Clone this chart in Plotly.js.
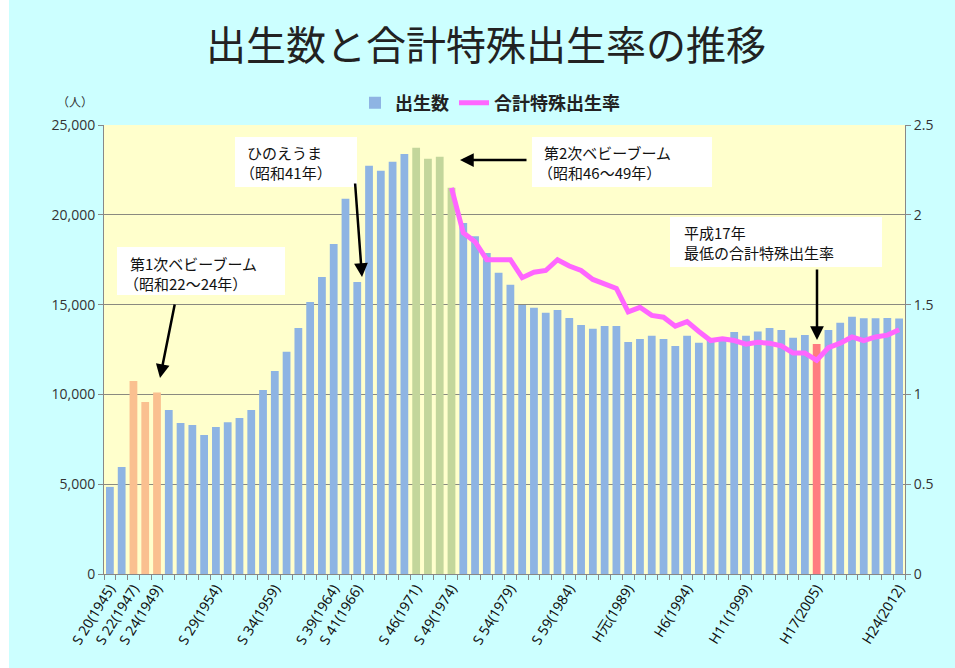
<!DOCTYPE html>
<html>
<head>
<meta charset="utf-8">
<script src="https://cdn.plot.ly/plotly-3.0.1.min.js"></script>
<style>
html,body{margin:0;padding:0;background:#ffffff;}
#chart{width:955px;height:668px;}
</style>
</head>
<body>
<div id="chart"></div>
<script>
// ---- data ----
const years = [
  '1945','1946','1947','1948','1949','1950','1951','1952','1953','1954',
  '1955','1956','1957','1958','1959','1960','1961','1962','1963','1964',
  '1965','1966','1967','1968','1969','1970','1971','1972','1973','1974',
  '1975','1976','1977','1978','1979','1980','1981','1982','1983','1984',
  '1985','1986','1987','1988','1989','1990','1991','1992','1993','1994',
  '1995','1996','1997','1998','1999','2000','2001','2002','2003','2004',
  '2005','2006','2007','2008','2009','2010','2011','2012'];

const births = [
  4850, 5960, 10750, 9580, 10100, 9130, 8410, 8300, 7740, 8190,
  8450, 8690, 9130, 10250, 11300, 12370, 13700, 15150, 16540, 18380,
  20890, 16260, 22730, 22450, 22950, 23390, 23730, 23120, 23230, 21500,
  19550, 18800, 17880, 16770, 16100, 14980, 14820, 14540, 14700, 14260,
  13870, 13650, 13810, 13810, 12920, 13090, 13260, 13090, 12700, 13260,
  12880, 13030, 13030, 13480, 13260, 13500, 13700, 13590, 13150, 13310,
  12810, 13590, 13990, 14330, 14240, 14240, 14260, 14220];

const tfrYears = [
  '1974','1975','1976','1977','1978','1979','1980','1981','1982','1983',
  '1984','1985','1986','1987','1988','1989','1990','1991','1992','1993',
  '1994','1995','1996','1997','1998','1999','2000','2001','2002','2003',
  '2004','2005','2006','2007','2008','2009','2010','2011','2012'];
const tfr = [
  2.15, 1.90, 1.85, 1.75, 1.75, 1.75, 1.65, 1.68, 1.69, 1.75,
  1.715, 1.69, 1.64, 1.615, 1.59, 1.46, 1.485, 1.44, 1.43, 1.38,
  1.405, 1.35, 1.30, 1.31, 1.30, 1.28, 1.29, 1.285, 1.27, 1.23,
  1.23, 1.19, 1.26, 1.285, 1.32, 1.30, 1.32, 1.33, 1.36];

const labelYears = ['1945','1947','1949','1954','1959','1964','1966','1971','1974',
                    '1979','1984','1989','1994','1999','2005','2012'];
const labelTexts = ['S 20(1945)','S 22(1947)','S 24(1949)','S 29(1954)','S 34(1959)',
                    'S 39(1964)','S 41(1966)','S 46(1971)','S 49(1974)','S 54(1979)',
                    'S 59(1984)','H元(1989)','H6(1994)','H11(1999)','H17(2005)','H24(2012)'];

const boom1Years = ['1947','1948','1949'];
const boom2Years = ['1971','1972','1973','1974'];
const lowestYears = ['2005'];

const seriesNames = ['出生数', '合計特殊出生率'];

// ---- styling ----
const C_BLUE = '#8EB4E3', C_ORANGE = '#FAC090', C_GREEN = '#C3D69B', C_RED = '#FF7C80';
const barColors = years.map(y =>
  boom1Years.includes(y) ? C_ORANGE :
  boom2Years.includes(y) ? C_GREEN :
  lowestYears.includes(y) ? C_RED : C_BLUE);

const tickText = years.map(y => {
  const i = labelYears.indexOf(y);
  return i >= 0 ? labelTexts[i] : '';
});

// plot area pixel geometry helpers
const L = 104, R = 905, T = 125, B = 574;
const PX = px => (px - L) / (R - L);
const PY = py => (B - py) / (B - T);

const JP = '"Noto Sans CJK JP", "Noto Sans", sans-serif';
const NUM = '"Open Sans", "Noto Sans", sans-serif';

const traces = [
  {
    type: 'bar', name: seriesNames[0], x: years, y: births,
    marker: {color: barColors}, yaxis: 'y', hoverinfo: 'x+y'
  },
  {
    type: 'scatter', mode: 'lines', name: seriesNames[1], x: tfrYears, y: tfr,
    yaxis: 'y2', line: {color: '#FF66FF', width: 5}
  }
];

function box(x0, y0, x1, y1) {
  return {type: 'rect', xref: 'paper', yref: 'paper',
    x0: PX(x0), x1: PX(x1), y0: PY(y1), y1: PY(y0),
    fillcolor: '#FFFFFF', line: {width: 0}, layer: 'above'};
}
function txt(x, y, text) {
  return {xref: 'paper', yref: 'paper', x: PX(x), y: PY(y), text: text,
    showarrow: false, xanchor: 'left', yanchor: 'middle', align: 'left',
    font: {family: JP, size: 15, color: '#111'}};
}
function arrow(tx, ty, hx, hy) {
  return {xref: 'paper', yref: 'paper', x: PX(hx), y: PY(hy), ax: tx - hx, ay: ty - hy,
    axref: 'pixel', ayref: 'pixel', text: '', showarrow: true,
    arrowhead: 2, arrowsize: 1.1, arrowwidth: 2.5, arrowcolor: '#000'};
}

const layout = {
  width: 955, height: 668,
  paper_bgcolor: '#CCFFFF', plot_bgcolor: '#FFFFCC',
  margin: {l: L, r: 955 - R, t: T, b: 668 - B, pad: 0},
  font: {family: NUM, color: '#333'},
  title: {
    text: '出生数と合計特殊出生率の推移',
    font: {family: JP, size: 40, color: '#222'},
    x: 486 / 955, xref: 'container', xanchor: 'center',
    y: 1 - 46 / 668, yref: 'container', yanchor: 'middle'
  },
  showlegend: true,
  legend: {
    orientation: 'h', x: PX(490), xanchor: 'center', y: PY(103), yanchor: 'middle',
    bgcolor: 'rgba(0,0,0,0)', font: {family: JP, size: 18, color: '#222', weight: 'bold'},
    traceorder: 'normal', itemwidth: 30
  },
  bargap: 0.34,
  xaxis: {
    type: 'category', tickmode: 'array', tickvals: years, ticktext: tickText,
    tickson: 'boundaries', ticks: 'outside', ticklen: 5, tickcolor: '#888',
    tickangle: -58, showline: true, linecolor: '#888', linewidth: 1,
    showgrid: false, tickfont: {family: '"Noto Sans", "Noto Sans CJK JP", sans-serif', size: 14, color: '#111'},
    range: [-0.5, years.length - 0.5], fixedrange: true
  },
  yaxis: {
    range: [0, 25000], dtick: 5000, tickformat: ',d',
    showgrid: true, gridcolor: '#8a8a80', gridwidth: 1,
    showline: true, linecolor: '#888', ticks: 'outside', ticklen: 5, tickcolor: '#888',
    zeroline: false, tickfont: {family: NUM, size: 14, color: '#333'}, fixedrange: true
  },
  yaxis2: {
    overlaying: 'y', side: 'right', range: [0, 2.5], dtick: 0.5,
    showgrid: false, showline: true, linecolor: '#888', ticks: 'outside', ticklen: 5,
    tickcolor: '#888', zeroline: false, tickfont: {family: NUM, size: 14, color: '#333'},
    fixedrange: true
  },
  shapes: [
    {type: 'rect', xref: 'paper', yref: 'paper', x0: PX(0), x1: PX(9), y0: PY(668), y1: PY(0),
     fillcolor: '#FFFFFF', line: {width: 0}, layer: 'below'},
    box(235, 137, 357, 187),
    box(117, 247, 285, 295),
    box(532, 137, 712, 187),
    box(670, 217, 882, 267)
  ],
  annotations: [
    {xref: 'paper', yref: 'paper', x: PX(75), y: PY(101), text: '（人）', showarrow: false,
     font: {family: JP, size: 12, color: '#333'}, xanchor: 'center', yanchor: 'middle'},
    txt(245, 152, 'ひのえうま'),
    txt(238, 172, '（昭和41年）'),
    txt(128, 263, '第1次ベビーブーム'),
    txt(122, 283, '（昭和22〜24年）'),
    txt(542, 152, '第2次ベビーブーム'),
    txt(536, 172, '（昭和46〜49年）'),
    txt(682, 233, '平成17年'),
    txt(682, 252, '最低の合計特殊出生率'),
    arrow(355, 182, 362, 277),
    arrow(175, 303, 160, 378),
    arrow(528, 160, 460, 160),
    arrow(817, 268, 817, 340),
    {x: '1974', y: tfr[tfrYears.indexOf('1974')], xref: 'x', yref: 'y2', text: '<b>2.15</b>',
     showarrow: false, xanchor: 'left', yanchor: 'middle', xshift: 12, yshift: 0,
     font: {family: NUM, size: 17, color: '#111'}},
    {x: '1975', y: tfr[tfrYears.indexOf('1975')], xref: 'x', yref: 'y2', text: '<b>1.90</b>',
     showarrow: false, xanchor: 'left', yanchor: 'middle', xshift: 15, yshift: 0,
     font: {family: NUM, size: 17, color: '#111'}},
    {x: '2012', y: tfr[tfrYears.indexOf('2012')], xref: 'x', yref: 'y2', text: '<b>1.36</b>',
     showarrow: false, xanchor: 'right', yanchor: 'middle', xshift: 2, yshift: 39,
     font: {family: NUM, size: 17, color: '#111'}},
    {x: '2005', y: tfr[tfrYears.indexOf('2005')], xref: 'x', yref: 'y2', text: '<b>1.19</b>',
     showarrow: false, xanchor: 'center', yanchor: 'middle', xshift: -1, yshift: -41,
     bgcolor: '#FFFFFF', bordercolor: '#111', borderwidth: 1.5, borderpad: 4,
     font: {family: NUM, size: 16, color: '#111'}}
  ]
};

Plotly.newPlot('chart', traces, layout, {displayModeBar: false, staticPlot: true});
</script>
</body>
</html>
